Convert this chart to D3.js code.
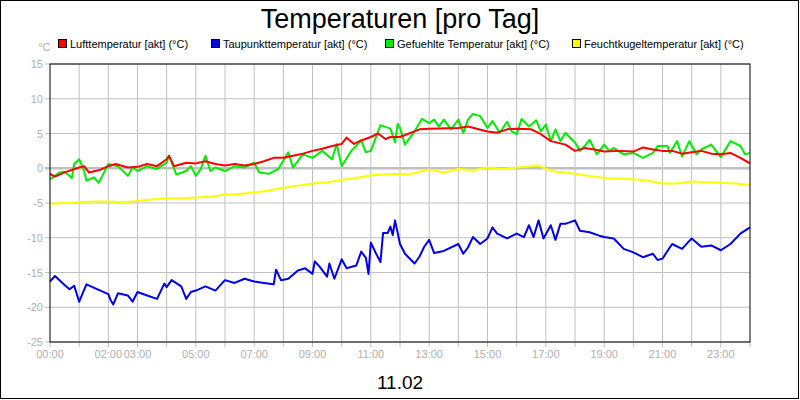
<!DOCTYPE html>
<html><head><meta charset="utf-8">
<script src="https://cdn.jsdelivr.net/npm/d3@7"></script>
<style>body{margin:0;background:#fff}svg{display:block;font-family:Arial,"Liberation Sans",sans-serif}</style>
</head><body><svg id="c" width="800" height="400"></svg>
<script>
const title = "Temperaturen [pro Tag]";
const dateLabel = "11.02";
const seriesNames = ["Lufttemperatur [akt] (°C)","Taupunkttemperatur [akt] (°C)","Gefuehlte Temperatur [akt] (°C)","Feuchtkugeltemperatur [akt] (°C)"];
const seriesColors = ["#ff0000","#0000ee","#00ee00","#ffff00"];
const xTickLabels = ["00:00","02:00","03:00","05:00","07:00","09:00","11:00","13:00","15:00","17:00","19:00","21:00","23:00"];
const xTickHours = [0,2,3,5,7,9,11,13,15,17,19,21,23];
const yTicks = [15,10,5,0,-5,-10,-15,-20,-25];

// Lufttemperatur
const airT = [0,0.17,0.5,1,1.17,1.33,1.67,2,2.25,2.67,3,3.33,3.67,4,4.08,4.25,4.67,5,5.33,5.67,6,6.33,6.67,7,7.33,7.67,8,8.33,8.67,9,9.33,9.67,10,10.17,10.42,10.67,11,11.25,11.5,11.67,12,12.67,13,14,14.33,15,15.33,15.67,16,16.5,16.83,17.17,17.67,18,18.33,18.67,19,19.5,20,20.33,20.67,21,21.33,21.67,22,22.33,22.67,23,23.33,23.67,24];
const airV = [-0.8,-1.2,-0.6,0.1,0.3,-0.6,-0.3,0.3,0.6,0.1,0.2,0.6,0.3,1.3,1.8,0.3,0.8,0.7,1.0,0.6,0.4,0.6,0.4,0.6,1.0,1.5,1.5,1.8,2.1,2.5,2.8,3.2,3.5,4.4,3.5,4.0,4.5,5.0,4.2,4.5,4.5,5.6,5.7,5.8,6.0,5.3,5.1,5.6,5.7,5.6,4.9,3.9,3.4,2.5,2.9,2.7,2.4,2.5,2.4,3.0,2.7,2.5,2.5,2.1,2.3,2.5,2.1,2.0,2.2,1.5,0.7];

// Taupunkttemperatur
const dewT = [0,0.17,0.5,0.67,0.83,1,1.25,1.67,2,2.08,2.17,2.33,2.67,2.83,3,3.33,3.67,3.92,4,4.17,4.5,4.67,4.83,5,5.33,5.67,6,6.33,6.67,7,7.33,7.67,7.75,7.92,8.17,8.5,8.75,9,9.08,9.25,9.5,9.58,9.75,10,10.17,10.5,10.67,10.83,10.92,11,11.17,11.33,11.42,11.58,11.67,11.75,11.83,12,12.17,12.5,12.67,12.83,13,13.17,13.5,14,14.17,14.33,14.5,14.75,15,15.17,15.33,15.67,16,16.25,16.42,16.58,16.75,16.92,17.17,17.33,17.5,17.67,18,18.17,18.5,18.83,19,19.33,19.67,20,20.33,20.67,20.83,21,21.33,21.67,22,22.33,22.67,23,23.33,23.67,24];
const dewV = [-16.3,-15.5,-16.8,-17.4,-16.9,-19.2,-16.7,-17.5,-18.1,-19.0,-19.6,-18.0,-18.3,-19.2,-17.8,-18.3,-18.8,-16.6,-17.1,-16.1,-17.0,-18.8,-17.8,-17.6,-17.0,-17.6,-16.1,-16.5,-15.9,-16.3,-16.5,-16.7,-14.6,-16.1,-15.9,-14.7,-14.4,-15.2,-13.4,-14.2,-15.6,-13.7,-15.9,-13.1,-14.4,-14.0,-12.0,-12.9,-15.2,-10.7,-12.2,-13.5,-9.3,-9.3,-8.4,-9.6,-7.5,-10.9,-12.3,-13.7,-12.7,-11.3,-10.3,-12.2,-11.9,-10.9,-12.3,-11.4,-9.9,-10.9,-10.1,-8.5,-9.4,-10.1,-9.4,-9.9,-8.2,-9.9,-7.5,-10.1,-8.2,-10.3,-8.0,-8.0,-7.5,-9.0,-9.2,-9.7,-9.9,-10.1,-11.6,-12.1,-12.8,-12.3,-13.2,-13.0,-10.9,-11.6,-10.1,-11.3,-11.1,-11.8,-10.9,-9.4,-8.5];

// Gefuehlte Temperatur
const feltT = [0,0.17,0.33,0.5,0.75,0.83,1,1.17,1.25,1.5,1.67,2,2.33,2.67,2.83,3,3.33,3.67,4,4.08,4.33,4.67,4.83,5,5.17,5.33,5.5,5.67,6,6.33,6.67,7,7.17,7.5,7.83,8,8.17,8.33,8.67,9,9.33,9.67,9.83,10,10.33,10.67,10.83,11,11.33,11.67,11.83,11.92,12,12.17,12.5,12.75,13,13.17,13.33,13.5,13.75,14,14.17,14.33,14.5,14.75,15,15.17,15.42,15.67,15.83,16,16.17,16.42,16.67,16.83,17,17.17,17.33,17.5,17.67,17.83,18,18.17,18.33,18.5,18.75,19,19.17,19.33,19.67,20,20.33,20.67,20.83,21.17,21.25,21.5,21.67,21.92,22.17,22.33,22.67,23,23.33,23.67,23.83,24];
const feltV = [-1.6,-1.1,-0.6,-0.5,-1.4,0.6,1.3,-0.4,-1.8,-1.3,-2.1,0.6,0.3,-1.1,0.1,-0.4,0.3,-0.1,0.8,1.8,-0.9,-0.4,0.3,-1.1,-0.1,1.8,-0.4,0.1,-0.4,0.3,0.1,0.8,-0.6,-0.8,-0.1,1.1,2.3,0.1,2.0,1.5,2.5,1.3,3.5,0.3,2.5,4.0,2.3,2.5,6.2,5.7,3.7,6.4,5.8,3.4,5.3,7.1,6.5,7.0,6.0,7.0,5.6,7.0,5.1,7.0,7.8,7.5,5.8,6.8,5.1,6.7,5.3,4.9,7.1,6.0,6.9,5.3,6.3,3.9,5.6,3.9,5.1,4.4,3.7,2.5,3.2,4.1,2.0,3.4,2.5,2.9,2.0,2.2,1.5,2.2,3.2,3.2,2.2,3.9,1.7,3.9,2.0,2.7,3.4,1.6,3.9,3.2,2.0,2.2];

// Feuchtkugeltemperatur
const wetT = [0,0.5,1,1.5,2,2.5,3,3.5,4,4.5,5,5.5,6,6.5,7,7.5,8,8.5,9,9.5,10,10.5,11,11.5,12,12.33,12.67,13,13.5,14,14.5,15,15.5,16,16.5,16.75,17,17.33,17.67,18,18.5,19,19.5,20,20.5,21,21.5,22,22.5,23,23.5,24];
const wetV = [-5.1,-5.0,-4.9,-4.8,-4.8,-4.9,-4.7,-4.5,-4.3,-4.3,-4.2,-4.1,-3.8,-3.7,-3.5,-3.2,-2.8,-2.5,-2.2,-2.0,-1.7,-1.4,-1.0,-0.9,-0.8,-0.9,-0.5,-0.2,-0.6,-0.1,-0.3,0.1,-0.1,0.1,0.3,0.4,-0.1,-0.5,-0.6,-0.8,-1.1,-1.4,-1.5,-1.6,-1.8,-2.2,-2.2,-1.9,-2.0,-2.1,-2.2,-2.4];

const svg = d3.select("#c");
const L=50, R=750, T=64, B=342;
const x = d3.scaleLinear().domain([0,24]).range([L,R]);
const y = d3.scaleLinear().domain([-25,15]).range([B,T]);
const gray="#c0c0c0", lab="#b0b0b0";

svg.append("rect").attr("x",0.5).attr("y",0.5).attr("width",798).attr("height",398).attr("fill","#fff").attr("stroke","#000");

// grid
svg.append("g").selectAll("line").data(d3.range(1,24)).join("line")
  .attr("x1",d=>x(d)).attr("x2",d=>x(d)).attr("y1",T).attr("y2",B+5).attr("stroke",gray);
svg.append("g").selectAll("line").data(yTicks).join("line")
  .attr("x1",L-5).attr("x2",R).attr("y1",d=>y(d)).attr("y2",d=>y(d))
  .attr("stroke",gray).attr("stroke-width",d=>d===0?2.5:1);
svg.append("line").attr("x1",L).attr("x2",L).attr("y1",B).attr("y2",B+5).attr("stroke",gray);
svg.append("line").attr("x1",R).attr("x2",R).attr("y1",B).attr("y2",B+5).attr("stroke",gray);

// axis labels
svg.append("g").selectAll("text").data(yTicks).join("text")
  .attr("x",L-7).attr("y",d=>y(d)+4).attr("text-anchor","end").attr("font-size",11).attr("fill",lab).text(d=>d);
svg.append("g").selectAll("text").data(xTickLabels).join("text")
  .attr("x",(d,i)=>x(xTickHours[i])).attr("y",B+16).attr("text-anchor","middle").attr("font-size",11).attr("fill",lab).text(d=>d);
svg.append("text").attr("x",38).attr("y",51).attr("font-size",11).attr("fill",lab).attr("text-anchor","start").text("°C");

// lines
const line=d3.line().x(d=>x(d[0])).y(d=>y(d[1]));
const data=[[wetT,wetV,3],[dewT,dewV,1],[feltT,feltV,2],[airT,airV,0]];
data.forEach(([t,v,ci])=>{
  svg.append("path").datum(t.map((h,i)=>[h,v[i]])).attr("d",line)
    .attr("fill","none").attr("stroke",seriesColors[ci]).attr("stroke-width",2).attr("stroke-linejoin","round");
});

svg.append("rect").attr("x",L).attr("y",T).attr("width",R-L).attr("height",B-T).attr("fill","none").attr("stroke","#000");

// title & legend
svg.append("text").attr("x",400).attr("y",28).attr("text-anchor","middle").attr("font-size",27).attr("fill","#000").text(title);
const legX=[58,211,385,572];
seriesNames.forEach((n,i)=>{
  svg.append("rect").attr("x",legX[i]+0.5).attr("y",39.5).attr("width",8).attr("height",8).attr("fill",seriesColors[i]).attr("stroke","#000");
  svg.append("text").attr("x",legX[i]+12).attr("y",48).attr("font-size",11).attr("fill","#000").text(n);
});
svg.append("text").attr("x",400).attr("y",389).attr("text-anchor","middle").attr("font-size",19).attr("fill","#000").text(dateLabel);
</script></body></html>
